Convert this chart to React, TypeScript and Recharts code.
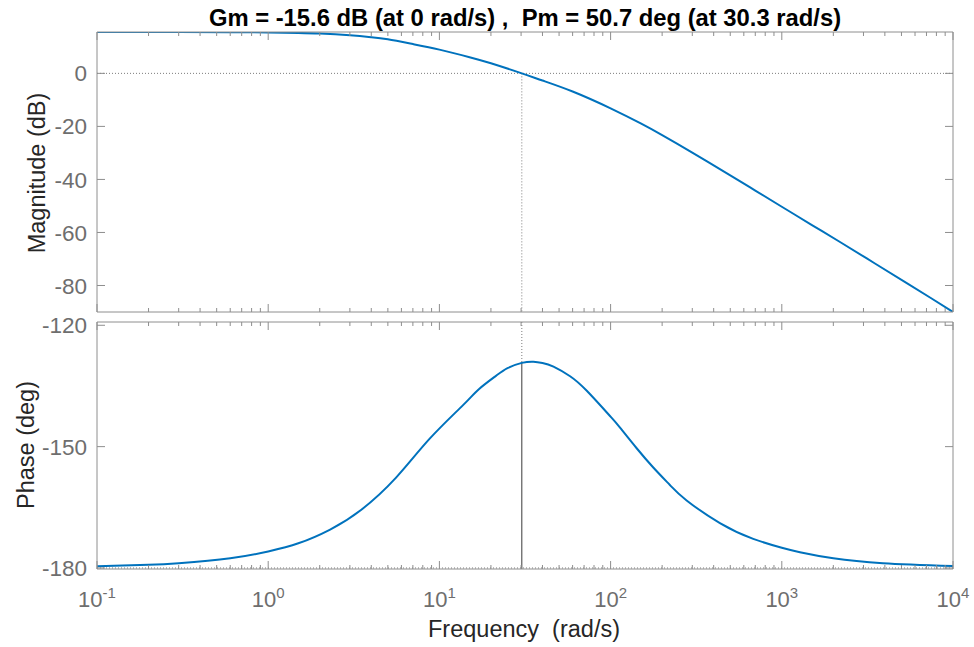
import React from 'react';
import { LineChart, Line, XAxis, YAxis, ReferenceLine } from 'recharts';

// ---- data ----
const magFreq = [0.1, 0.3, 0.6, 1, 1.5, 2, 3, 4, 5, 7, 10, 15, 20, 30.3, 40, 60, 100, 150, 200, 300, 500, 700, 1000, 1500, 2200, 3500, 5400, 7500, 10000];
const magDb = [15.6, 15.59, 15.54, 15.45, 15.25, 15.0, 14.35, 13.65, 12.85, 11.05, 8.95, 6.1, 3.8, 0, -2.7, -6.85, -13.2, -18.9, -23.3, -29.9, -38.5, -44.2, -50.3, -57.2, -63.7, -71.7, -79.2, -84.9, -90];

const phaseFreq = [0.1, 0.2, 0.3, 0.6, 1, 1.5, 2.3, 3.5, 5.6, 8.75, 13.7, 17, 21.4, 25, 30.3, 35.4, 40, 46.4, 58, 72.6, 100, 113.5, 142, 177, 222, 278, 435, 681, 1000, 1276, 2000, 3900, 10000];
const phaseDeg = [-179.6, -179.2, -178.8, -177.6, -175.9, -173.9, -170.5, -165.6, -157.6, -148.1, -139.8, -135.8, -132.5, -130.6, -129.3, -129.0, -129.3, -130.2, -132.6, -136.2, -142.6, -145.3, -150.4, -155.1, -159.5, -163.3, -168.9, -172.8, -175.0, -176.1, -177.6, -178.8, -179.5];

const decadeTicks = [0.1, 1, 10, 100, 1000, 10000];
const decadeExponents = ['-1', '0', '1', '2', '3', '4'];
const minorMultipliers = [2, 3, 4, 5, 6, 7, 8, 9];
const magTicks = [0, -20, -40, -60, -80];
const phaseTicks = [-120, -150, -180];
const magDomain: [number, number] = [-90, 15.6];
const phaseDomain: [number, number] = [-180.25, -119.19];
const freqDomain: [number, number] = [0.1, 10000];

const crossoverFreq = 30.3;
const phaseMargin = 50.7;
const phaseAtCrossover = -180 + phaseMargin;

const titleText = 'Gm = -15.6 dB (at 0 rad/s) ,  Pm = 50.7 deg (at 30.3 rad/s)';
const magLabel = 'Magnitude (dB)';
const phaseLabel = 'Phase (deg)';
const freqLabel = 'Frequency  (rad/s)';

// ---- derived tables ----
const magData = magFreq.map((f, i) => ({ f, v: magDb[i] }));
const phaseData = phaseFreq.map((f, i) => ({ f, v: phaseDeg[i] }));
const allXTicks: number[] = [];
decadeTicks.forEach((d, i) => {
  allXTicks.push(d);
  if (i < decadeTicks.length - 1) minorMultipliers.forEach((m) => allXTicks.push(d * m));
});

// ---- styles ----
const FONT = '"Liberation Sans", Arial, Helvetica, sans-serif';
const AXIS_COLOR = '#8e8e8e';
const TICK_TEXT = '#6e6e6e';
const LABEL_COLOR = '#262626';
const LINE_COLOR = '#0072BD';
const W = 974;
const MARGIN_LEFT = 96;
const MARGIN_RIGHT = 20;

const isMajor = (v: number) => {
  const l = Math.log10(v);
  return Math.abs(l - Math.round(l)) < 1e-6;
};

const XTickBottom = (props: any) => {
  const { x, y, payload, showLabel } = props;
  const major = isMajor(payload.value);
  const len = major ? 8 : 4;
  const idx = decadeTicks.findIndex((d) => Math.abs(d - payload.value) < 1e-9);
  return (
    <g>
      <line x1={x} x2={x} y1={y} y2={y - len} stroke={AXIS_COLOR} strokeWidth={1} />
      {showLabel && major && idx >= 0 && (
        <text x={x} y={y + 38} textAnchor="middle" fill={TICK_TEXT} fontFamily={FONT} fontSize={22}>
          <tspan>10</tspan>
          <tspan dy={-9} fontSize={15}>{decadeExponents[idx]}</tspan>
        </text>
      )}
    </g>
  );
};

const XTickTop = (props: any) => {
  const { x, y, payload } = props;
  const len = isMajor(payload.value) ? 8 : 4;
  return <line x1={x} x2={x} y1={y} y2={y + len} stroke={AXIS_COLOR} strokeWidth={1} />;
};

const YTickLeft = (props: any) => {
  const { x, y, payload } = props;
  return (
    <g>
      <line x1={x} x2={x + 8} y1={y} y2={y} stroke={AXIS_COLOR} strokeWidth={1} />
      <text x={x - 10} y={y} dy="0.36em" textAnchor="end" fill={TICK_TEXT} fontFamily={FONT} fontSize={22.5}>
        {payload.value}
      </text>
    </g>
  );
};

const YTickRight = (props: any) => {
  const { x, y } = props;
  return <line x1={x} x2={x - 8} y1={y} y2={y} stroke={AXIS_COLOR} strokeWidth={1} />;
};

const axisLine = { stroke: AXIS_COLOR, strokeWidth: 1 };

function Panel({ data, domain, ticks, height, margin, bottomLabels, children }: any) {
  return (
    <LineChart width={W} height={height} data={data} margin={margin}>
      <XAxis
        xAxisId={0}
        dataKey="f"
        type="number"
        scale="log"
        domain={freqDomain}
        ticks={allXTicks}
        interval={0}
        height={1}
        tickSize={0}
        tickMargin={0}
        tickLine={false}
        axisLine={axisLine}
        allowDataOverflow
        tick={(p: any) => <XTickBottom {...p} showLabel={bottomLabels} />}
      />
      <XAxis
        xAxisId="top"
        orientation="top"
        dataKey="f"
        type="number"
        scale="log"
        domain={freqDomain}
        ticks={allXTicks}
        interval={0}
        height={1}
        tickSize={0}
        tickMargin={0}
        tickLine={false}
        axisLine={axisLine}
        allowDataOverflow
        tick={(p: any) => <XTickTop {...p} />}
      />
      <YAxis
        yAxisId={0}
        type="number"
        domain={domain}
        ticks={ticks}
        interval={0}
        width={1}
        tickSize={0}
        tickMargin={0}
        tickLine={false}
        axisLine={axisLine}
        allowDataOverflow
        tick={(p: any) => <YTickLeft {...p} />}
      />
      <YAxis
        yAxisId="right"
        orientation="right"
        type="number"
        domain={domain}
        ticks={ticks}
        interval={0}
        width={1}
        tickSize={0}
        tickMargin={0}
        tickLine={false}
        axisLine={axisLine}
        allowDataOverflow
        tick={(p: any) => <YTickRight {...p} />}
      />
      {children}
      <Line
        xAxisId={0}
        yAxisId={0}
        dataKey="v"
        type="natural"
        stroke={LINE_COLOR}
        strokeWidth={2}
        dot={false}
        activeDot={false}
        isAnimationActive={false}
      />
    </LineChart>
  );
}

export default function App() {
  const dotted = { stroke: '#7c7c7c', strokeWidth: 1, strokeDasharray: '1 2' };
  return (
    <div style={{ position: 'absolute', left: 0, top: 0, width: 974, height: 647, background: '#fff' }}>
      <div style={{ position: 'absolute', left: 0, top: 0 }}>
        <Panel
          data={magData}
          domain={magDomain}
          ticks={magTicks}
          height={316}
          margin={{ top: 31, right: MARGIN_RIGHT, bottom: 3, left: MARGIN_LEFT }}
          bottomLabels={false}
        >
          <ReferenceLine xAxisId={0} yAxisId={0} y={0} {...dotted} />
          <ReferenceLine
            xAxisId={0}
            yAxisId={0}
            segment={[{ x: crossoverFreq, y: 0 }, { x: crossoverFreq, y: magDomain[0] }]}
            {...dotted}
          />
        </Panel>
      </div>
      <div style={{ position: 'absolute', left: 0, top: 300 }}>
        <Panel
          data={phaseData}
          domain={phaseDomain}
          ticks={phaseTicks}
          height={347}
          margin={{ top: 21, right: MARGIN_RIGHT, bottom: 77, left: MARGIN_LEFT }}
          bottomLabels={true}
        >
          <ReferenceLine xAxisId={0} yAxisId={0} y={-180} {...dotted} />
          <ReferenceLine
            xAxisId={0}
            yAxisId={0}
            segment={[{ x: crossoverFreq, y: phaseDomain[1] }, { x: crossoverFreq, y: phaseAtCrossover }]}
            {...dotted}
          />
          <ReferenceLine
            xAxisId={0}
            yAxisId={0}
            segment={[{ x: crossoverFreq, y: phaseAtCrossover }, { x: crossoverFreq, y: phaseDomain[0] }]}
            stroke="#3a3a3a"
            strokeWidth={1}
          />
        </Panel>
      </div>
      <svg
        width={974}
        height={647}
        style={{ position: 'absolute', left: 0, top: 0, pointerEvents: 'none' }}
      >
        <text x={525} y={26} textAnchor="middle" fontFamily={FONT} fontSize={23.8} fontWeight="bold" fill="#000" style={{ whiteSpace: 'pre' }}>
          {titleText}
        </text>
        <text x={45} y={173} transform="rotate(-90 45 173)" textAnchor="middle" fontFamily={FONT} fontSize={23.5} fill={LABEL_COLOR}>
          {magLabel}
        </text>
        <text x={33.5} y={445} transform="rotate(-90 33.5 445)" textAnchor="middle" fontFamily={FONT} fontSize={23.5} fill={LABEL_COLOR}>
          {phaseLabel}
        </text>
        <text x={524} y={637} textAnchor="middle" fontFamily={FONT} fontSize={23.5} fill={LABEL_COLOR} style={{ whiteSpace: 'pre' }}>
          {freqLabel}
        </text>
      </svg>
    </div>
  );
}
